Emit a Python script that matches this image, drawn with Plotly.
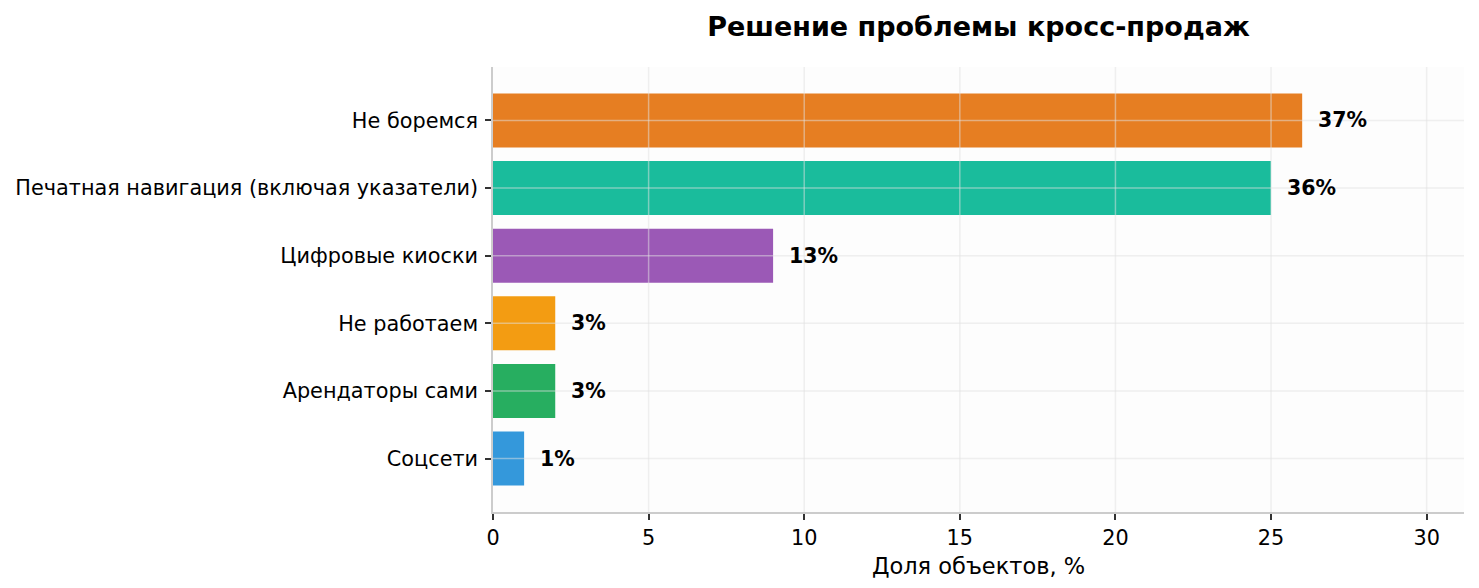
import plotly.graph_objects as go

categories = ["Не боремся", "Печатная навигация (включая указатели)", "Цифровые киоски",
              "Не работаем", "Арендаторы сами", "Соцсети"]
values = [26, 25, 9, 2, 2, 1]
pct_labels = ["37%", "36%", "13%", "3%", "3%", "1%"]
colors = ["#e67e22", "#1abc9c", "#9b59b6", "#f39c12", "#27ae60", "#3498db"]
x_ticks = [0, 5, 10, 15, 20, 25, 30]

FONT = "DejaVu Sans"
GRID = "rgba(225,225,225,0.5)"

fig = go.Figure()
fig.add_trace(go.Bar(
    y=categories, x=values, orientation="h",
    marker=dict(color=colors, line=dict(width=0)),
    width=0.8, hoverinfo="x+y",
))

for c, v, t in zip(categories, values, pct_labels):
    fig.add_annotation(x=v, y=c, text="<b>%s</b>" % t, showarrow=False,
                       xanchor="left", yanchor="middle", xshift=14,
                       font=dict(family=FONT, size=20.5, color="#000000"))

# grid lines drawn above the bars (as in the reference)
for t in x_ticks[1:]:
    fig.add_shape(type="line", xref="x", yref="paper", x0=t, x1=t, y0=0, y1=1,
                  line=dict(color=GRID, width=1.5), layer="above")
for c in categories:
    fig.add_shape(type="line", xref="paper", yref="y", x0=0, x1=1, y0=c, y1=c,
                  line=dict(color=GRID, width=1.5), layer="above")

fig.update_layout(
    width=1479, height=588,
    margin=dict(l=493, r=15, t=67, b=76),
    paper_bgcolor="white", plot_bgcolor="#fdfdfd",
    showlegend=False,
    font=dict(family=FONT, size=20.8, color="#000000"),
    title=dict(text="<b>Решение проблемы кросс-продаж</b>", x=(493 + 1464) / 2 / 1479,
               xanchor="center", y=1 - 27 / 588, yanchor="middle",
               font=dict(family=FONT, size=27, color="#000000")),
    bargap=0.2,
)

fig.update_xaxes(
    range=[0, 31.2], tickvals=x_ticks, ticktext=[str(t) for t in x_ticks],
    showgrid=False,
    zeroline=False, showline=True, linecolor="#cccccc", linewidth=1.5,
    ticks="outside", ticklen=6, tickwidth=1.5, tickcolor="#333333",
    tickfont=dict(family=FONT, size=20.8, color="#000000"),
    title=dict(text="Доля объектов, %", font=dict(family=FONT, size=22.5, color="#000000"), standoff=10),
    layer="above traces",
)
fig.update_yaxes(
    categoryorder="array", categoryarray=categories,
    range=[5.79, -0.79],
    showgrid=False,
    zeroline=False, showline=True, linecolor="#cccccc", linewidth=1.5,
    ticks="outside", ticklen=6, tickwidth=1.5, tickcolor="#333333",
    tickfont=dict(family=FONT, size=20.8, color="#000000"),
    ticklabelstandoff=3,
    layer="above traces",
)

fig.write_html("out.html")
